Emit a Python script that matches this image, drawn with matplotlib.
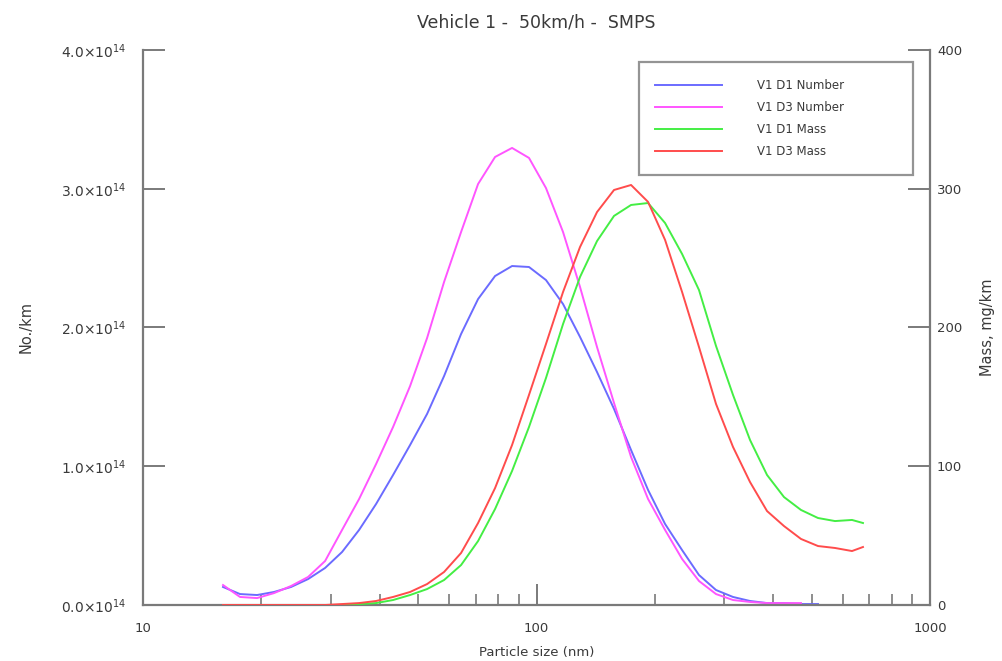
import numpy as np
import matplotlib
matplotlib.use("Agg")
import matplotlib.pyplot as plt
from matplotlib.ticker import FixedLocator, FuncFormatter, NullFormatter

nan = np.nan

# SMPS channel sizes (nm)
size_nm = [15.97, 17.64, 19.49, 21.53, 23.78, 26.27, 29.02, 32.05, 35.41, 39.11,
           43.20, 47.72, 52.71, 58.22, 64.31, 71.04, 78.47, 86.67, 95.70, 105.7,
           116.8, 129.0, 142.5, 157.4, 173.9, 192.1, 212.2, 234.4, 258.8, 285.9,
           315.8, 348.9, 385.4, 425.6, 470.1, 519.3, 573.6, 633.6, 675.6]

# No./km in units of 1e14
num_d1 = [0.130, 0.079, 0.072, 0.094, 0.130, 0.187, 0.267, 0.382, 0.541, 0.728,
          0.937, 1.153, 1.377, 1.650, 1.953, 2.205, 2.371, 2.443, 2.436, 2.342,
          2.169, 1.932, 1.679, 1.413, 1.117, 0.829, 0.584, 0.396, 0.216, 0.108,
          0.058, 0.029, 0.014, 0.014, 0.007, 0.007, nan, nan, nan]
num_d3 = [0.144, 0.058, 0.050, 0.086, 0.137, 0.202, 0.317, 0.541, 0.764, 1.016,
          1.283, 1.578, 1.924, 2.328, 2.688, 3.034, 3.229, 3.294, 3.222, 3.005,
          2.688, 2.292, 1.859, 1.456, 1.067, 0.764, 0.541, 0.332, 0.173, 0.079,
          0.036, 0.022, 0.014, 0.014, 0.014, nan, nan, nan, nan]

# mass, mg/km
mass_d1 = [nan, nan, nan, nan, nan, nan, nan, 0.0, 0.7, 1.4,
           3.6, 7.2, 11.5, 18.0, 28.8, 46.1, 69.2, 96.6, 128.3, 163.6,
           202.5, 236.4, 262.3, 280.4, 288.3, 289.7, 275.3, 253.0, 227.0, 186.7,
           151.4, 118.9, 93.7, 77.8, 68.5, 62.7, 60.5, 61.3, 59.1]
mass_d3 = [0.0, 0.0, 0.0, 0.0, 0.0, 0.0, 0.0, 0.7, 1.4, 2.9,
           5.8, 9.4, 15.1, 23.8, 37.5, 59.1, 84.3, 115.3, 151.4, 188.1,
           225.6, 258.0, 283.2, 299.1, 302.7, 290.5, 263.1, 225.6, 185.9, 144.9,
           113.9, 88.6, 67.7, 56.9, 47.6, 42.5, 41.1, 38.9, 41.8]

labels = ["V1 D1 Number", "V1 D3 Number", "V1 D1 Mass", "V1 D3 Mass"]

grey = "#7a7a7a"
txt = "#3a3a3a"
plt.rcParams['font.family'] = ['DejaVu Sans']
plt.rcParams['mathtext.default'] = 'regular'

fig = plt.figure(figsize=(10.03, 6.61), dpi=100)
ax = fig.add_axes([0.1426, 0.0847, 0.9272 - 0.1426, 0.9244 - 0.0847])
ax2 = ax.twinx()

l1, = ax.plot(size_nm, np.array(num_d1) * 1e14, color="#6b6bff", lw=1.4)
l2, = ax.plot(size_nm, np.array(num_d3) * 1e14, color="#ff55ff", lw=1.4)
l3, = ax2.plot(size_nm, mass_d1, color="#44ee44", lw=1.4)
l4, = ax2.plot(size_nm, mass_d3, color="#ff4c4c", lw=1.4)

ax.set_xscale("log")
ax.set_xlim(10, 1000)
ax.set_ylim(0, 4e14)
ax2.set_ylim(0, 400)

ax.xaxis.set_major_locator(FixedLocator([10, 100, 1000]))
ax.xaxis.set_major_formatter(FuncFormatter(lambda v, p: "%d" % v))
ax.xaxis.set_minor_locator(FixedLocator([m * d for d in (10, 100) for m in range(2, 10)]))
ax.xaxis.set_minor_formatter(NullFormatter())
ax.set_yticks([0, 1e14, 2e14, 3e14, 4e14])
ax.yaxis.set_major_formatter(FuncFormatter(lambda v, p: r"$%.1f{\times}10^{14}$" % (v / 1e14)))
ax2.set_yticks([0, 100, 200, 300, 400])

for a in (ax, ax2):
    a.spines['top'].set_visible(False)
    for s in a.spines.values():
        s.set_color(grey)
        s.set_linewidth(1.6)
ax.spines['right'].set_visible(False)
ax2.spines['left'].set_visible(False)
ax2.spines['bottom'].set_visible(False)

ax.tick_params(axis='x', which='major', direction='in', length=15, width=1.4, color=grey,
               labelsize=9.5, labelcolor=txt, pad=12)
ax.tick_params(axis='x', which='minor', direction='in', length=8, width=1.2, color=grey)
ax.tick_params(axis='y', direction='in', length=16, width=1.4, color=grey,
               labelsize=10, labelcolor=txt, pad=12)
ax2.tick_params(axis='y', direction='in', length=16, width=1.4, color=grey,
                labelsize=9.5, labelcolor=txt, pad=5)

ax.set_xlabel("Particle size (nm)", fontsize=9.5, color=txt, labelpad=8)
ax.set_ylabel("No./km", fontsize=10.5, color=txt, labelpad=20)
ax2.set_ylabel("Mass, mg/km", fontsize=10.5, color=txt, labelpad=13)
ax.set_title("Vehicle 1 -  50km/h -  SMPS", fontsize=12.5, color=txt, pad=16)

leg = ax.legend([l1, l2, l3, l4], labels,
                loc='upper left', bbox_to_anchor=(0.637, 0.906, 0.273, 0.0),
                bbox_transform=fig.transFigure, mode='expand', fontsize=8.5,
                handlelength=5.6, handletextpad=3.0, labelspacing=0.78, borderpad=1.4,
                fancybox=False, frameon=True, borderaxespad=0)
leg.get_frame().set_edgecolor(grey)
leg.get_frame().set_linewidth(1.6)
for t in leg.get_texts():
    t.set_color(txt)

fig.savefig("out.png", dpi=100)
